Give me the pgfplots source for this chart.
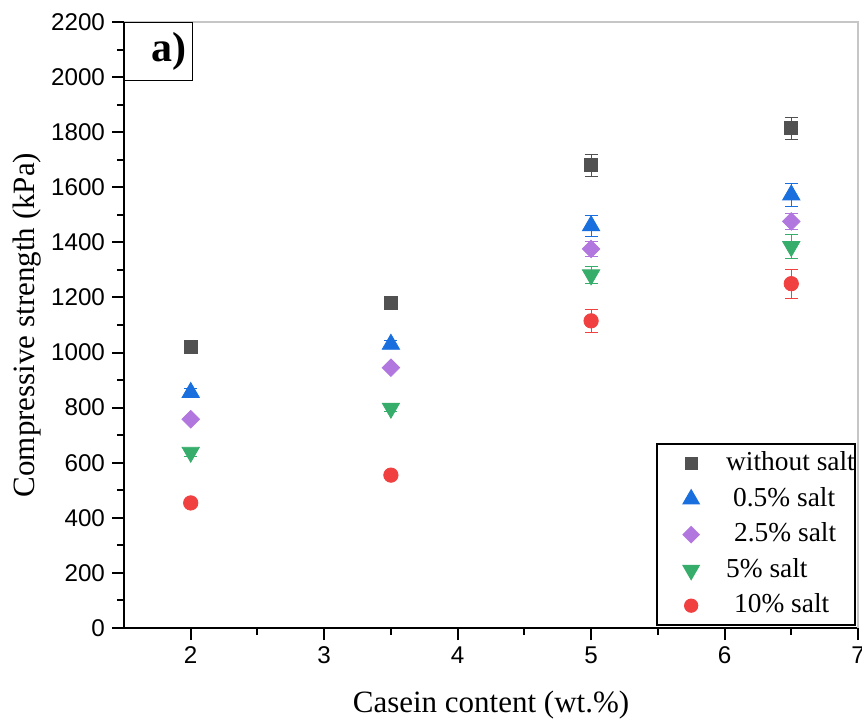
\documentclass[border=0pt]{standalone}
\usepackage{fontspec}
\setmainfont{Liberation Serif}
\setsansfont{Liberation Sans}
\usepackage{pgfplots}
\pgfplotsset{compat=1.18}

\definecolor{cgrey}{HTML}{515151}
\definecolor{cblue}{HTML}{1A6FDF}
\definecolor{cpurple}{HTML}{B177DE}
\definecolor{cgreen}{HTML}{37AD6B}
\definecolor{cred}{HTML}{F14040}

\begin{document}
\begin{tikzpicture}
\begin{axis}[
    scale only axis,
    width=367bp, height=303bp,
    xmin=1.5, xmax=7, ymin=0, ymax=2200,
    xtick={2,3,4,5,6,7},
    ytick={0,200,...,2200},
    minor x tick num=1, minor y tick num=1,
    axis x line*=bottom, axis y line*=left,
    axis line style={black, line width=1bp, -},
    tick align=outside,
    major tick length=6bp, minor tick length=3.5bp,
    every tick/.style={black, line width=1bp},
    scaled y ticks=false,
    tick label style={font=\fontsize{12.1bp}{14bp}\selectfont\sffamily},
    /pgf/number format/assume math mode=true,
    /pgf/number format/1000 sep={},
    xlabel={Casein content (wt.\%)},
    ylabel={Compressive strength (kPa)},
    label style={font=\fontsize{15.5bp}{18bp}\selectfont},
    xlabel style={at={(axis description cs:0.5,-0.127)}, anchor=center},
    ylabel style={at={(axis description cs:-0.132,0.5)}, anchor=center, rotate=0},
    clip=false,
    legend cell align=left,
    legend style={at={(axis description cs:0.997,0.003)}, anchor=south east,
        draw=black, line width=1bp, inner xsep=0pt, inner ysep=3.25bp,
        row sep=4.75bp, column sep=0pt,
        font=\fontsize{13.7bp}{16bp}\selectfont,
        nodes={inner sep=0pt, text height=10bp, text depth=3bp}},
    legend image code/.code={\path[draw=none, fill=none] (0bp,0bp) (34.5bp,0bp);
        \draw[#1, mark size=0.85*\pgfplotmarksize] plot coordinates {(17bp,0bp)};},
    error bars/y dir=both, error bars/y explicit,
    error bars/error bar style={line width=0.5bp},
    error bars/error mark options={rotate=90, mark size=3.25bp, line width=0.5bp},
]
\addplot[only marks, color=cgrey, mark=square*, mark size=3.25bp]
  table[x=x, y=y, y error=e] {
x y e
2 1020 6
3.5 1180 8
5 1680 40
6.5 1815 40
};
\addlegendentry{without salt}
\addplot[only marks, color=cblue, mark=triangle*, mark size=5bp]
  table[x=x, y=y, y error=e] {
x y e
2 855 15
3.5 1030 15
5 1460 38
6.5 1572 40
};
\addlegendentry{\hspace{3.5bp}0.5\% salt}
\addplot[only marks, color=cpurple, mark=square*, mark size=3.1bp, mark options={rotate=45}]
  table[x=x, y=y, y error=e] {
x y e
2 758 8
3.5 945 8
5 1376 28
6.5 1476 30
};
\addlegendentry{\hspace{4bp}2.5\% salt}
\addplot[only marks, color=cgreen, mark=triangle*, mark size=5bp, mark options={rotate=180}]
  table[x=x, y=y, y error=e] {
x y e
2 638 15
3.5 798 12
5 1282 32
6.5 1385 42
};
\addlegendentry{5\% salt}
\addplot[only marks, color=cred, mark=*, mark size=3.6bp]
  table[x=x, y=y, y error=e] {
x y e
2 454 8
3.5 555 8
5 1115 42
6.5 1250 52
};
\addlegendentry{\hspace{4bp}10\% salt}

\draw[gray!45, line width=1bp] (rel axis cs:0,1) -- (rel axis cs:1,1) -- (rel axis cs:1,0);
\node[draw=black, line width=0.5bp, anchor=north west, inner xsep=3bp, inner ysep=0pt,
      text width=28bp, minimum height=29bp, align=right,
      font=\fontsize{21bp}{24bp}\selectfont\bfseries] at (rel axis cs:0,1) {a)};
\coordinate (SW) at (rel axis cs:0,0);
\coordinate (NE) at (rel axis cs:1,1);
\end{axis}
\pgfresetboundingbox
\useasboundingbox ([xshift=-62bp,yshift=-47.5bp]SW) rectangle ([xshift=2bp,yshift=11bp]NE);
\end{tikzpicture}
\end{document}
